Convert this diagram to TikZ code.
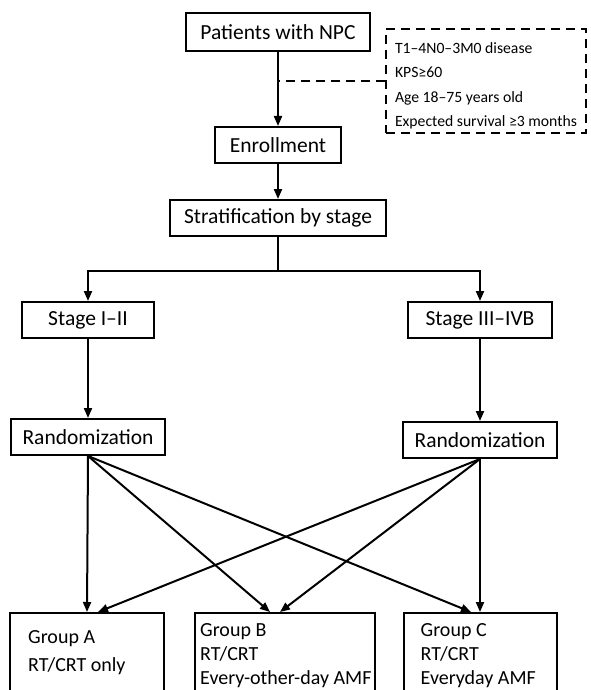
\documentclass[tikz,border=0pt]{standalone}
\usepackage{fontspec}
\setmainfont{Carlito}
\usetikzlibrary{positioning, arrows.meta}

\begin{document}
\begin{tikzpicture}[
  x=1pt, y=-1pt,
  >={Triangle[length=10pt, width=8pt]},
  every node/.style={font=\fontsize{21.5}{24}\selectfont},
  box/.style    = {draw, line width=2pt, inner sep=0pt, minimum height=36pt},
  crit/.style   = {draw, line width=2pt, dash pattern=on 9pt off 6pt, align=left, minimum width=200pt,
                   inner xsep=9pt, inner ysep=4pt, anchor=north west,
                   font=\fontsize{15.7}{24.5}\selectfont},
  grp/.style    = {draw, line width=2pt, minimum height=110pt, anchor=north, inner sep=0pt},
  grptxt/.style = {align=left, inner sep=0pt, anchor=north west, font=\fontsize{20}{24}\selectfont},
  arr/.style    = {->, line width=2pt},
  dashln/.style = {line width=2pt, dash pattern=on 9pt off 6pt},
]
  \useasboundingbox (0,0) rectangle (590,690);
  \clip (0,0) rectangle (590,690);
  % main column
  \node[box, minimum width=184pt, minimum height=38pt] (pat) at (278,32) {Patients with NPC};
  \node[box, minimum width=126pt, below=74pt of pat]   (enr)   {Enrollment};
  \node[box, minimum width=216pt, below=35pt of enr]   (strat) {Stratification by stage};
  \node[crit] (crit) at (385,28) {\rule{0pt}{20pt}T1–4N0–3M0 disease\\KPS≥60\\Age 18–75 years old\\Expected survival ≥3 months};
  % two stage arms
  \node[box, minimum width=132pt] (st1) at (88,320)  {Stage I–II};
  \node[box, minimum width=144pt] (st2) at (480,320) {Stage III–IVB};
  \node[box, minimum width=154pt, below=79pt of st1] (rnd1) {Randomization};
  \node[box, minimum width=154pt, below=82pt of st2] (rnd2) {Randomization};
  % groups
  \node[grp, minimum width=154pt] (gA) at (87,612)  {};
  \node[grp, minimum width=180pt] (gB) at (285,612) {};
  \node[grp, minimum width=153pt] (gC) at (480,612) {};
  \node[grptxt, below right=18pt and 19pt of gA.north west] (tA) {Group A\\[4pt]RT/CRT only};
  \node[grptxt, below right=11pt and 6pt of gB.north west]  (tB) {Group B\\RT/CRT\\Every-other-day AMF};
  \node[grptxt, below right=11pt and 18pt of gC.north west] (tC) {Group C\\RT/CRT\\Everyday AMF};

  \draw[arr] (pat) -- (enr);
  \draw[arr] (enr) -- (strat);
  \draw[dashln] (crit.west) -- (crit.west -| pat.south);
  \draw[arr] (strat.south) -- ++(0,34) -| (st1.north);
  \draw[arr] (strat.south) -- ++(0,34) -| (st2.north);
  \draw[arr] (st1) -- (rnd1);
  \draw[arr] (st2) -- (rnd2);
  \foreach \a/\b/\s in {rnd1/gA/0,rnd1/gB/-15,rnd1/gC/-9,rnd2/gA/11,rnd2/gB/-5,rnd2/gC/0}
     \draw[arr] (\a.south) -- ([xshift=\s pt]\b.north);
\end{tikzpicture}
\end{document}
